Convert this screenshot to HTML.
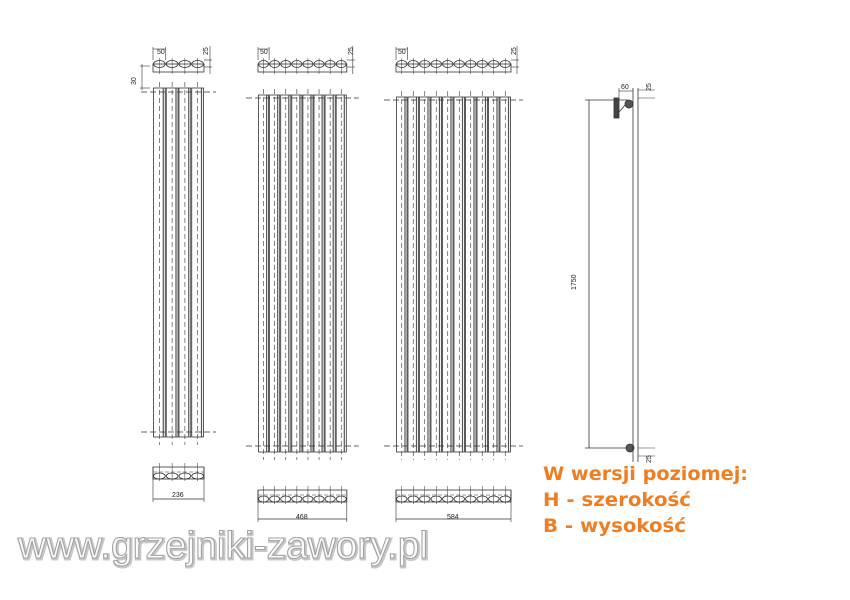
<!DOCTYPE html>
<html><head><meta charset="utf-8"><style>
html,body{margin:0;padding:0;background:#fff;width:850px;height:600px;overflow:hidden}
svg{display:block}
</style></head><body>
<svg id="s" width="850" height="600" viewBox="0 0 850 600" xmlns="http://www.w3.org/2000/svg" font-family="Liberation Sans, sans-serif">
<g id="g" stroke="#333" fill="none" stroke-width="0.8"></g>
<g fill="#222" font-size="7">
<text x="157" y="54">50</text>
<text x="260" y="54">50</text>
<text x="398" y="54">50</text>
<text transform="translate(208,55) rotate(-90)">25</text>
<text transform="translate(353,55) rotate(-90)">25</text>
<text transform="translate(516,55) rotate(-90)">25</text>
<text transform="translate(136,85) rotate(-90)">30</text>
<text x="172" y="497">236</text>
<text x="296" y="519">468</text>
<text x="447" y="519">584</text>
<text x="621" y="89">60</text>
<text transform="translate(651,91) rotate(-90)">25</text>
<text transform="translate(651,463) rotate(-90)">25</text>
<text transform="translate(576,290) rotate(-90)">1750</text>
</g>
<g fill="#ef7d22" font-weight="bold" font-size="19" font-family="DejaVu Sans, Liberation Sans, sans-serif">
<text x="543" y="480" textLength="205" lengthAdjust="spacingAndGlyphs">W wersji poziomej:</text>
<text x="543" y="506" textLength="148" lengthAdjust="spacingAndGlyphs">H - szerokość</text>
<text x="543" y="532" textLength="143" lengthAdjust="spacingAndGlyphs">B - wysokość</text>
</g>
<text x="19" y="559" font-size="38" fill="none" stroke="#c8c8c8" stroke-width="3" textLength="410" lengthAdjust="spacingAndGlyphs">www.grzejniki-zawory.pl</text>
<text x="18" y="558" font-size="38" fill="#fbfbfb" stroke="#a0a0a0" stroke-width="1" textLength="410" lengthAdjust="spacingAndGlyphs">www.grzejniki-zawory.pl</text>
</svg>
<script>
var g=document.getElementById('g'),NS='http://www.w3.org/2000/svg';
function el(t,a){var e=document.createElementNS(NS,t);for(var k in a)e.setAttribute(k,a[k]);g.appendChild(e);return e}
function L(x1,y1,x2,y2,o){var a={x1:x1,y1:y1,x2:x2,y2:y2};for(var k in o||{})a[k]=o[k];return el('line',a)}
function rad(x0,n,w,top,bot,hy1,hy2,tv,bvY,dimY){
 for(var i=0;i<n;i++){var x=x0+i*w;
  el('rect',{x:x+0.5,y:top,width:w-1,height:bot-top});
  L(x+w-2.5,top,x+w-2.5,bot,{'stroke-width':1.2,stroke:'#555'});
  L(x+w/2,top-6,x+w/2,bot+8,{'stroke-dasharray':'5,3','stroke-width':0.6});
 }
 L(x0-12,hy1,x0+n*w+12,hy1,{'stroke-dasharray':'6,3','stroke-width':0.7});
 L(x0-12,hy2,x0+n*w+12,hy2,{'stroke-dasharray':'6,3','stroke-width':0.7});
 var W=n*w;
 el('rect',{x:x0,y:tv,width:W,height:8});
 for(var i=0;i<n;i++){var cx=x0+i*w+w/2;el('ellipse',{cx:cx,cy:tv,rx:w/2-0.5,ry:3.5});L(cx,tv-6,cx,tv+10,{'stroke-width':0.5});}
 L(x0,tv-4,x0,47,{'stroke-width':0.6});L(x0+w,tv-4,x0+w,47,{'stroke-width':0.6});L(x0,49,x0+w,49,{'stroke-width':0.6});
 L(x0+W,tv-4,x0+W+8,tv-4,{'stroke-width':0.6});L(x0+W,tv+3,x0+W+8,tv+3,{'stroke-width':0.6});L(x0+W+6,46,x0+W+6,tv+10,{'stroke-width':0.6});
 el('rect',{x:x0,y:bvY,width:W,height:12});
 L(x0,bvY+5,x0+W,bvY+5,{'stroke-dasharray':'4,2','stroke-width':0.5});
 for(var i=0;i<n;i++){var cx=x0+i*w+w/2;el('ellipse',{cx:cx,cy:bvY+9,rx:w/2-0.5,ry:3});L(cx,bvY-4,cx,bvY+14,{'stroke-width':0.5});}
 L(x0,bvY,x0,dimY+3,{'stroke-width':0.6});L(x0+W,bvY,x0+W,dimY+3,{'stroke-width':0.6});L(x0,dimY,x0+W,dimY,{'stroke-width':0.7});
}
rad(153,4,12.75,88,437,92,432,64,467,499);
rad(258,8,11.1,95,452,98,446,64,490,519);
rad(396,10,11.5,97,452,100,446,64,490,519);
L(589,100,589,448);L(585,100,628,100);L(585,448,628,448);
el('rect',{x:614,y:98,width:5,height:20,fill:'#444'});
L(619,112,626,104);
el('circle',{cx:629,cy:104,r:4,fill:'#555'});
el('circle',{cx:630,cy:448,r:4,fill:'#555'});
L(633,88,633,462);L(638,88,638,462);
L(619,88,619,98,{'stroke-width':0.6});L(619,91,633,91,{'stroke-width':0.6});
L(638,90,655,90,{'stroke-width':0.6});L(638,98,655,98,{'stroke-width':0.6});
L(638,448,655,448,{'stroke-width':0.6});L(638,456,655,456,{'stroke-width':0.6});
L(140,88,150,88,{'stroke-width':0.6});L(140,66,150,66,{'stroke-width':0.6});L(142,64,142,90,{'stroke-width':0.6});
</script>
</body></html>
